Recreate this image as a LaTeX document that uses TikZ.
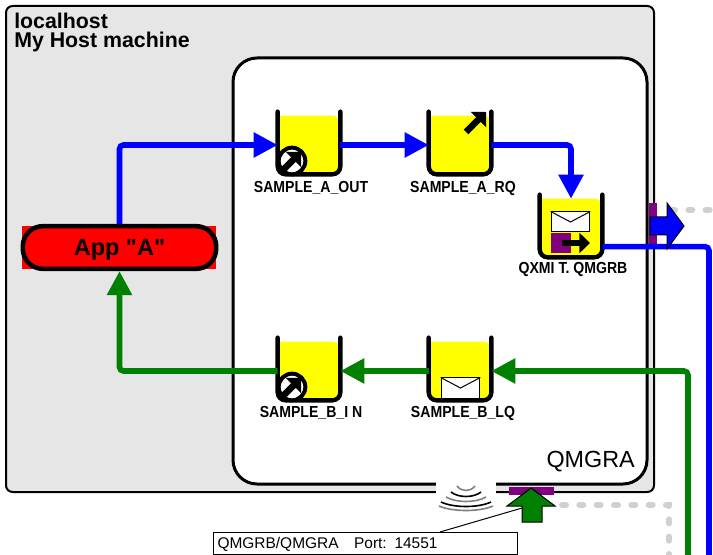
\documentclass[tikz,border=0pt]{standalone}
\usepackage{fontspec}
\setmainfont{Liberation Sans}
\newfontfamily\queuefont[FakeStretch=0.88]{Liberation Sans}
\newfontfamily\appfont{Liberation Sans}
\usetikzlibrary{arrows.meta}
\definecolor{hostgray}{RGB}{230,230,230}
\definecolor{dotgray}{RGB}{208,208,208}
\definecolor{chanpurple}{RGB}{128,0,128}
\definecolor{flowgreen}{RGB}{0,128,0}
\definecolor{flowblue}{RGB}{0,0,255}
\definecolor{queueyellow}{RGB}{255,255,0}
\definecolor{appred}{RGB}{255,0,0}
\tikzset{
	flowtip/.style = {-{Triangle[length=18pt,width=18pt]}},
	bluefl/.style = {draw=flowblue, line width=4.2pt, rounded corners=3pt},
	greenfl/.style = {draw=flowgreen, line width=4.2pt, rounded corners=3pt},
	dotfl/.style = {draw=dotgray, line width=4.5pt, line cap=round, dash pattern=on 3pt off 10pt},
	queuebox/.style = {minimum width=47pt, minimum height=44pt, inner sep=0pt, outer sep=0pt},
	queuelabel/.style = {font=\queuefont\fontsize{12pt}{13pt}\selectfont\bfseries, inner sep=0pt},
	rim/.style = {draw=black, line width=3.3pt, line cap=round, rounded corners=6pt},
	badge/.style = {circle, draw=black, fill=white, line width=3pt, minimum size=20pt, inner sep=0pt},
	pointer/.style = {draw=black, line width=5pt, -{Triangle[length=8pt,width=16pt]}},
	letter/.style = {draw=black, fill=white, line width=0.75pt, minimum width=29pt, minimum height=15pt, inner sep=0pt},
	chanbar/.style = {fill=chanpurple, inner sep=0pt},
	blockarrow/.style = {draw=black, line width=0.75pt},
}
\begin{document}
\begin{tikzpicture}[x=0.75pt, y=-0.75pt]
	\useasboundingbox (0,0) rectangle (713,555);
	% frames
	\node[draw=black, fill=hostgray, line width=1.5pt, rounded corners=5pt, outer sep=0pt, minimum width=486pt, minimum height=364.5pt, inner sep=0pt, anchor=north west] (host) at (6,6) {};
	\node[draw=black, fill=white, line width=2.25pt, rounded corners=18pt, outer sep=0pt, minimum width=310.5pt, minimum height=319.5pt, inner sep=0pt, anchor=north west] (qmgra) at (233,58) {};
	\node[anchor=north west, align=left, inner sep=0pt, font=\fontsize{16pt}{14.25pt}\selectfont\bfseries] (hostname) at (14,13) {localhost\\My Host machine};
	\node[anchor=base east, inner sep=0pt, font=\fontsize{17.5pt}{18pt}\selectfont] (qmname) at (635,467) {QMGRA};
	% queues
	\node[queuebox] (qaout) at (309,145) {};
	\node[queuebox] (qarq) at (460,145) {};
	\node[queuebox] (qxmit) at (571,228) {};
	\node[queuebox] (qbin) at (309,371) {};
	\node[queuebox] (qblq) at (460,371) {};
	\foreach \q in {qaout,qarq,qxmit,qbin,qblq} {
		\fill[queueyellow, rounded corners=6pt] (\q.north west) -- (\q.south west) -- (\q.south east) -- (\q.north east) [sharp corners] -- cycle;
		\draw[rim] ([yshift=3pt]\q.north west) -- (\q.south west) -- (\q.south east) -- ([yshift=3pt]\q.north east);
	}
	\node[queuelabel] (laout) at (311,188) {SAMPLE\_A\_OUT};
	\node[queuelabel] (larq) at (463,188) {SAMPLE\_A\_RQ};
	\node[queuelabel] (lxmit) at (573,269) {QXMI T. QMGRB};
	\node[queuelabel] (lbin) at (311,413) {SAMPLE\_B\_I N};
	\node[queuelabel] (lblq) at (463,413) {SAMPLE\_B\_LQ};
	% application
	\node[fill=appred, minimum width=145.5pt, minimum height=32pt, inner sep=0pt] (appback) at (119,247.5) {};
	\node[draw=black, fill=appred, line width=3.4pt, rounded corners=15pt, minimum width=145pt, minimum height=32pt, inner sep=0pt, text depth=0pt, font=\appfont\fontsize{17.6pt}{18pt}\selectfont\bfseries] (appa) at (119.5,247.5) {App "A"};
	% links to the other side
	\coordinate (dotright) at (713,210);
	\coordinate (dotcorner) at (669,505);
	\coordinate (dotdown) at (669,555);
	\coordinate (bluedown) at (709,555);
	\coordinate (greendown) at (688,555);
	\node[chanbar, minimum width=6pt, minimum height=34pt] (sendbar) at (653,225.5) {};
	\node[chanbar, minimum width=34pt, minimum height=6pt] (recvbar) at (531.5,491) {};
	\draw[dotfl] (671,210) -- (dotright);
	\draw[dotfl] (562,505) -- (dotcorner) -- (dotdown);
	% flows
	\draw[bluefl, flowtip] (appa.north) |- (qaout.west);
	\draw[bluefl, flowtip] (qaout.east) -- (qarq.west);
	\draw[bluefl, flowtip] (qarq.east) -| (qxmit.north);
	\draw[bluefl] ([yshift=-14pt]qxmit.east) -| (bluedown);
	\draw[greenfl, flowtip] (greendown) |- (qblq.east);
	\draw[greenfl, flowtip] (qblq.west) -- (qbin.east);
	\draw[greenfl, flowtip] (qbin.west) -| (appa.south);
	% block arrows
	\draw[blockarrow, fill=flowblue] (650,217) -- (667,217) -- (667,203) -- (684,226) -- (667,249) -- (667,235) -- (650,235) -- cycle;
	\draw[blockarrow, fill=flowgreen] (531,488) -- (555,506) -- (542,506) -- (542,522) -- (522,522) -- (522,506) -- (507,506) -- cycle;
	% icons
	\node[badge] (baout) at (292,161) {};
	\coordinate (pa1) at (282,171);
	\coordinate (pa2) at (301,152);
	\draw[pointer] (pa1) -- (pa2);
	\node[badge] (bbin) at (292,387) {};
	\coordinate (pb1) at (282,397);
	\coordinate (pb2) at (301,378);
	\draw[pointer] (pb1) -- (pb2);
	\coordinate (pc1) at (466,132);
	\coordinate (pc2) at (486,112);
	\draw[pointer] (pc1) -- (pc2);
	\node[letter] (lqmail) at (460.5,388) {};
	\draw[line width=0.75pt] (lqmail.north west) -- (lqmail.center) -- (lqmail.north east);
	\node[letter] (xmail) at (570.5,222) {};
	\draw[line width=0.75pt] (xmail.north west) -- (xmail.center) -- (xmail.north east);
	\node[chanbar, minimum width=15pt, minimum height=15pt] (xbar) at (561,243) {};
	\coordinate (xp1) at (562,243);
	\coordinate (xp2) at (590,243);
	\draw[draw=black, line width=4.2pt, -{Triangle[length=8pt,width=15pt]}] (xp1) -- (xp2);
	% listener
	\node[fill=white, minimum width=45pt, minimum height=24pt, inner sep=0pt] (listener) at (466,498) {};
	\foreach \w/\b/\c in {9/491/gray,15/497/black,20/502/gray,25/507/black,27/511/gray} {
		\draw[\c, line width=1.2pt] (466-\w,\b-5) .. controls (466-\w/2,\b+1) and (466+\w/2,\b+1) .. (466+\w,\b-5);
	}
	% port label
	\node[draw=black, fill=white, line width=0.75pt, anchor=north west, outer sep=0pt, minimum width=228pt, minimum height=16.5pt, inner sep=0pt, text width=222pt, text depth=0pt, align=left, font=\fontsize{11.6pt}{12pt}\selectfont] (portlabel) at (213.5,532) {QMGRB/QMGRA\ \ \ Port: 14551};
	\coordinate (portend) at (522,508);
	\draw[line width=0.75pt] (440,532) -- (portend);
\end{tikzpicture}
\end{document}
